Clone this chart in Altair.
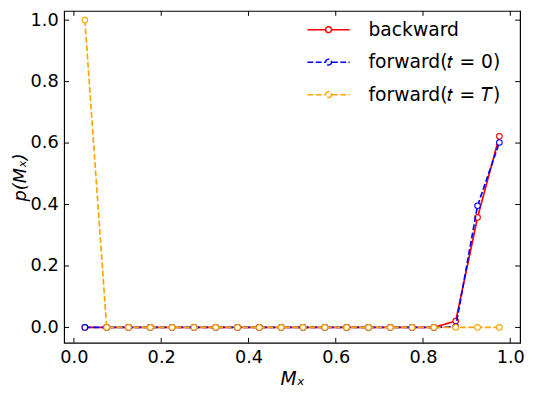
import altair as alt
import pandas as pd

x_vals = [0.025, 0.075, 0.125, 0.175, 0.225, 0.275, 0.325, 0.375, 0.425, 0.475,
          0.525, 0.575, 0.625, 0.675, 0.725, 0.775, 0.825, 0.875, 0.925, 0.975]
backward = [0, 0, 0, 0, 0, 0, 0, 0, 0, 0, 0, 0, 0, 0, 0, 0, 0, 0.021, 0.358, 0.622]
forward_t0 = [0, 0, 0, 0, 0, 0, 0, 0, 0, 0, 0, 0, 0, 0, 0, 0, 0, 0.003, 0.396, 0.602]
forward_tT = [1.0, 0, 0, 0, 0, 0, 0, 0, 0, 0, 0, 0, 0, 0, 0, 0, 0, 0, 0, 0]

series_names = ["backward", "forward(𝑡 = 0)", "forward(𝑡 = 𝑇)"]
series_colors = ["#ff0000", "#0000ff", "#ffa500"]
series_dash = [[1, 0], [6, 2.5], [6, 2.5]]

tick_vals = [0.0, 0.2, 0.4, 0.6, 0.8, 1.0]

W, H = 463, 337
FONT = "DejaVu Sans"

rows = []
for name, vals in zip(series_names, [backward, forward_t0, forward_tT]):
    for xv, yv in zip(x_vals, vals):
        rows.append({"x": xv, "y": yv, "series": name})
df = pd.DataFrame(rows)

xscale = alt.Scale(domain=[-0.0225, 1.0225], nice=False, zero=False)
yscale = alt.Scale(domain=[-0.05, 1.03], nice=False, zero=False)
cscale = alt.Scale(domain=series_names, range=series_colors)
dscale = alt.Scale(domain=series_names, range=series_dash)

xaxis = alt.Axis(values=tick_vals, format=".1f", title="Mₓ", titleFontStyle="italic",
                 ticks=False, domain=False, grid=False, labelPadding=6,
                 labelFontSize=18, titleFontSize=19, labelFont=FONT, titleFont=FONT,
                 titleFontWeight="normal", titlePadding=3, labelColor="black", titleColor="black")
yaxis = alt.Axis(values=tick_vals, format=".1f", title="p(Mₓ)", titleFontStyle="italic",
                 ticks=False, domain=False, grid=False, labelPadding=6,
                 labelFontSize=18, titleFontSize=18, labelFont=FONT, titleFont=FONT,
                 titleFontWeight="normal", titlePadding=1, labelColor="black", titleColor="black")

# legend symbol: line with an open circle marker in the middle
legend_symbol = ("M -1 0 L -0.16 0 "
                 "M 0.14 0 A 0.14 0.14 0 1 1 -0.14 0 A 0.14 0.14 0 1 1 0.14 0 "
                 "M 0.16 0 L 1 0")

legend = alt.Legend(title=None, orient="none", legendX=246, legendY=9,
                    symbolType=legend_symbol, symbolSize=1850, symbolStrokeWidth=1.5,
                    symbolFillColor="white",
                    labelFontSize=19, labelFont=FONT, labelOffset=18, clipHeight=20,
                    rowPadding=13, labelColor="black")

layers = []
for i, name in enumerate(series_names):
    sub = df[df["series"] == name]
    enc_common = dict(
        x=alt.X("x:Q", scale=xscale, axis=xaxis),
        y=alt.Y("y:Q", scale=yscale, axis=yaxis),
    )
    line = alt.Chart(sub).mark_line(strokeWidth=1.7).encode(
        color=alt.Color("series:N", scale=cscale, legend=legend),
        strokeDash=alt.StrokeDash("series:N", scale=dscale, legend=legend),
        **enc_common,
    )
    pts = alt.Chart(sub).mark_point(filled=True, fill="white", size=32, strokeWidth=1.1, opacity=1).encode(
        stroke=alt.Stroke("series:N", scale=cscale, legend=None),
        **enc_common,
    )
    layers += [line, pts]

tdf = pd.DataFrame({"t": tick_vals})
tick_style = dict(color="black", strokeWidth=1)
ytick_l = alt.Chart(tdf).mark_rule(**tick_style).encode(
    y=alt.Y("t:Q", scale=yscale, axis=yaxis), x=alt.value(0), x2=alt.value(5))
ytick_r = alt.Chart(tdf).mark_rule(**tick_style).encode(
    y=alt.Y("t:Q", scale=yscale, axis=yaxis), x=alt.value(W - 5), x2=alt.value(W))
xtick_b = alt.Chart(tdf).mark_rule(**tick_style).encode(
    x=alt.X("t:Q", scale=xscale, axis=xaxis), y=alt.value(H - 5), y2=alt.value(H))
xtick_t = alt.Chart(tdf).mark_rule(**tick_style).encode(
    x=alt.X("t:Q", scale=xscale, axis=xaxis), y=alt.value(0), y2=alt.value(5))

chart = alt.layer(*layers, ytick_l, ytick_r, xtick_b, xtick_t).properties(
    width=W, height=H,
    autosize=alt.AutoSizeParams(type="none"),
    padding={"left": 57, "top": 0, "right": 6, "bottom": 49},
).configure(
    background="white",
    view=alt.ViewConfig(stroke="black", strokeWidth=1.2),
)

chart.save("out.html", embed_options={"renderer": "svg", "actions": False})
